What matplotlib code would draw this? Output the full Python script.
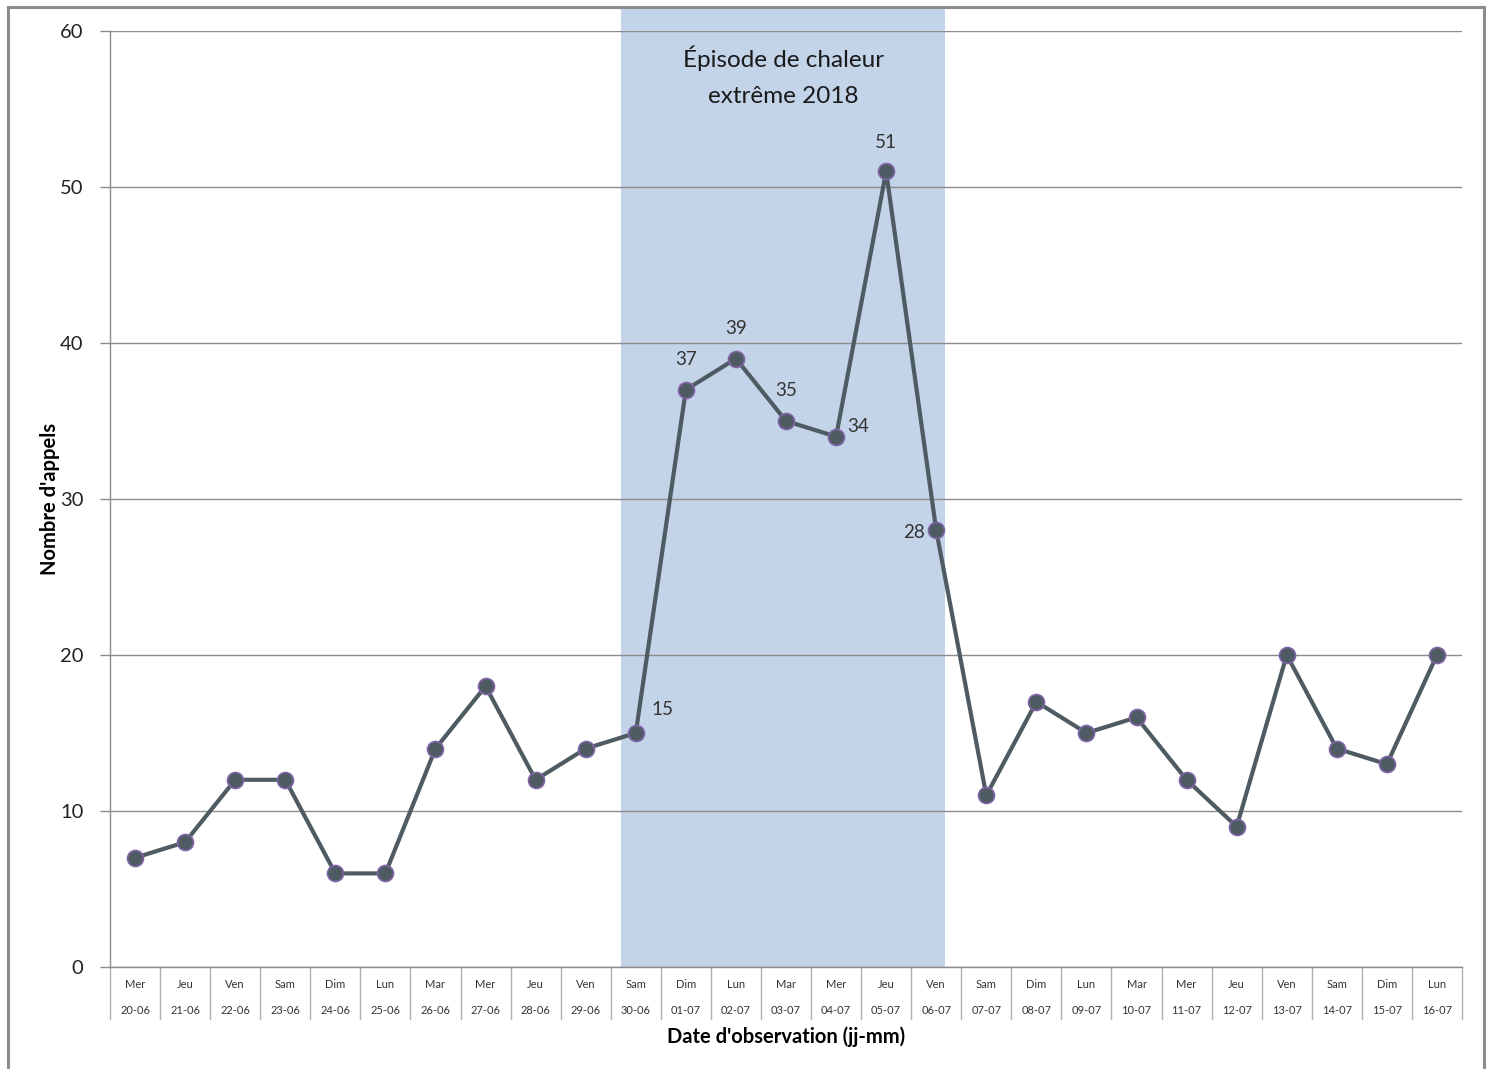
import matplotlib
matplotlib.use("Agg")
import matplotlib.pyplot as plt
from matplotlib.patches import Rectangle

plt.rcParams['font.family'] = ['Lato', 'DejaVu Sans']

days = ["Mer", "Jeu", "Ven", "Sam", "Dim", "Lun", "Mar", "Mer", "Jeu", "Ven",
        "Sam", "Dim", "Lun", "Mar", "Mer", "Jeu", "Ven", "Sam", "Dim", "Lun",
        "Mar", "Mer", "Jeu", "Ven", "Sam", "Dim", "Lun"]
dates = ["20-06", "21-06", "22-06", "23-06", "24-06", "25-06", "26-06", "27-06",
         "28-06", "29-06", "30-06", "01-07", "02-07", "03-07", "04-07", "05-07",
         "06-07", "07-07", "08-07", "09-07", "10-07", "11-07", "12-07", "13-07",
         "14-07", "15-07", "16-07"]
calls = [7, 8, 12, 12, 6, 6, 14, 18, 12, 14, 15, 37, 39, 35, 34, 51, 28,
         11, 17, 15, 16, 12, 9, 20, 14, 13, 20]
episode_start = 9.71
episode_end = 16.18
episode_title = ["Épisode de chaleur", "extrême 2018"]
labelled = {10: (19, 17, 'center'), 11: (0, 22, 'center'), 12: (0, 22, 'center'),
            13: (0, 22, 'center'), 14: (8, 7, 'left'), 15: (0, 21, 'center'),
            16: (-8, -2, 'right')}

W, H = 1489, 1069
fig = plt.figure(figsize=(W / 100, H / 100), dpi=100)
ax = fig.add_axes([110 / W, (H - 967) / H, (1462 - 110) / W, (967 - 31) / H])

# outer border
fig.patches.append(Rectangle((8 / W, -0.05), (1484 - 8) / W, (H - 7) / H + 0.05,
                             transform=fig.transFigure, fill=False,
                             edgecolor='#8c8c8c', linewidth=2.2))

x = list(range(len(calls)))
ax.set_xlim(-0.5, len(calls) - 0.5)
ax.set_ylim(0, 60)

ax.axvspan(episode_start, episode_end, ymin=0, ymax=(967 - 7) / 936,
           color='#c3d3e8', clip_on=False, zorder=0, linewidth=0)

ax.set_yticks(range(0, 61, 10))
ax.yaxis.grid(True, color='#8c8c8c', linewidth=1)
ax.set_axisbelow(True)
ax.tick_params(axis='y', length=7, width=1, color='#8c8c8c', pad=12,
               labelsize=14.5, labelcolor='#222222')
ax.set_xticks([])
for s in ['top', 'right']:
    ax.spines[s].set_visible(False)
for s in ['left', 'bottom']:
    ax.spines[s].set_color('#8c8c8c')
    ax.spines[s].set_linewidth(1)

ax.plot(x, calls, color='#4f5b62', linewidth=3, marker='o', markersize=11.5,
        markerfacecolor='#4f5b62', markeredgecolor='#8064a8',
        markeredgewidth=1.2, zorder=3, clip_on=False)

for i, (dx, dy, ha) in labelled.items():
    ax.annotate(str(calls[i]), (x[i], calls[i]), xytext=(dx, dy),
                textcoords='offset points', ha=ha, va='center',
                fontsize=13.5, color='#333333')

xc = (episode_start + episode_end) / 2
ax.text(xc, 58.27, episode_title[0], ha='center', va='center',
        fontsize=17.5, color='#1a1a1a')
ax.text(xc, 55.83, episode_title[1], ha='center', va='center',
        fontsize=17.5, color='#1a1a1a')

# category axis labels
xt = ax.get_xaxis_transform()
for i in x:
    ax.text(i, -17 / 936, days[i], transform=xt, ha='center', va='center',
            fontsize=8, color='#333333')
    ax.text(i, -43 / 936, dates[i], transform=xt, ha='center', va='center',
            fontsize=8, color='#333333')
for b in range(len(calls) + 1):
    ax.plot([b - 0.5, b - 0.5], [0, -52 / 936], transform=xt, color='#b0b0b0',
            linewidth=1, clip_on=False)

ax.text(0.5, -70 / 936, "Date d'observation (jj-mm)", transform=ax.transAxes,
        ha='center', va='center', fontsize=14.5, fontweight='bold')
ax.text(-60 / 1352, 0.5, "Nombre d'appels", transform=ax.transAxes,
        ha='center', va='center', rotation=90, fontsize=14.5, fontweight='bold')

fig.savefig("out.png", dpi=100)
